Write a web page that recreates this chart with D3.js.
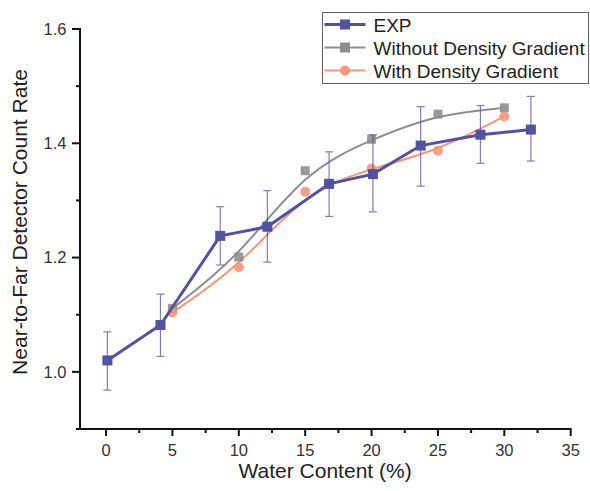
<!DOCTYPE html>
<html>
<head>
<meta charset="utf-8">
<script src="https://cdn.jsdelivr.net/npm/d3@7"></script>
<style>
  body { margin: 0; background: #fff; }
  svg { font-family: "Liberation Sans", Arial, sans-serif; }
</style>
</head>
<body>
<svg width="590" height="491"></svg>
<script>
// measured data
const expX = [0.1, 4.1, 8.6, 12.15, 16.8, 20.1, 23.7, 28.2, 32.0];
const expY = [1.020, 1.082, 1.238, 1.254, 1.329, 1.346, 1.396, 1.415, 1.424];
const expErrLo = [0.968, 1.027, 1.187, 1.192, 1.272, 1.280, 1.325, 1.365, 1.369];
const expErrHi = [1.070, 1.136, 1.289, 1.317, 1.385, 1.415, 1.464, 1.466, 1.482];

const simX = [5, 10, 15, 20, 25, 30];
const withoutY = [1.111, 1.201, 1.352, 1.407, 1.451, 1.462];
const withY = [1.104, 1.183, 1.315, 1.356, 1.387, 1.447];

const xTicks = [0, 5, 10, 15, 20, 25, 30, 35];
const yTicks = [1.0, 1.2, 1.4, 1.6];

const cExp = "#5252a3", cWithout = "#8e8e8e", cWith = "#f4967a";

const svg = d3.select("svg");
const x = d3.scaleLinear().domain([-2, 35]).range([79.5, 570.7]);
const y = d3.scaleLinear().domain([0.9, 1.6]).range([429, 29]);

// axes
const xAxis = svg.append("g").attr("transform", "translate(0,429)");
xAxis.append("line").attr("x1", 76).attr("x2", x(35) + 1).attr("stroke", "#111").attr("stroke-width", 2);
xAxis.selectAll("line.minor").data(d3.range(2.5, 35, 5)).join("line")
    .attr("x1", d => x(d)).attr("x2", d => x(d)).attr("y2", 4)
    .attr("stroke", "#111").attr("stroke-width", 2);
xAxis.selectAll("line.major").data(xTicks).join("line")
    .attr("x1", d => x(d)).attr("x2", d => x(d)).attr("y2", 7)
    .attr("stroke", "#111").attr("stroke-width", 2);
xAxis.selectAll("text").data(xTicks).join("text")
    .attr("x", d => x(d)).attr("y", 27).attr("text-anchor", "middle")
    .attr("font-size", 16.5).attr("fill", "#333").text(d => d);

const yAxis = svg.append("g").attr("transform", "translate(80,0)");
yAxis.append("line").attr("y1", 28).attr("y2", 430).attr("stroke", "#111").attr("stroke-width", 2);
yAxis.selectAll("line.minor").data([0.9, 1.1, 1.3, 1.5]).join("line")
    .attr("y1", d => y(d)).attr("y2", d => y(d)).attr("x2", -4)
    .attr("stroke", "#111").attr("stroke-width", 2);
yAxis.selectAll("line.major").data(yTicks).join("line")
    .attr("y1", d => y(d)).attr("y2", d => y(d)).attr("x2", -8)
    .attr("stroke", "#111").attr("stroke-width", 2);
yAxis.selectAll("text").data(yTicks).join("text")
    .attr("x", -13.5).attr("y", d => y(d) + 5.8).attr("text-anchor", "end")
    .attr("font-size", 16.5).attr("fill", "#333").text(d => d.toFixed(1));

svg.append("text").attr("x", x(16.5)).attr("y", 478).attr("text-anchor", "middle")
    .attr("font-size", 21).attr("fill", "#222").text("Water Content (%)");
svg.append("text").attr("transform", "translate(27,222) rotate(-90)")
    .attr("text-anchor", "middle").attr("font-size", 21).attr("fill", "#222")
    .text("Near-to-Far Detector Count Rate");

// simulated curves
const spline = d3.line().x(d => x(d[0])).y(d => y(d[1])).curve(d3.curveBasis);
svg.append("path").datum(d3.zip(simX, withoutY)).attr("d", spline)
    .attr("fill", "none").attr("stroke", cWithout).attr("stroke-width", 2);
svg.append("path").datum(d3.zip(simX, withY)).attr("d", spline)
    .attr("fill", "none").attr("stroke", cWith).attr("stroke-width", 2);

svg.selectAll("rect.without").data(d3.zip(simX, withoutY)).join("rect")
    .attr("x", d => x(d[0]) - 4.5).attr("y", d => y(d[1]) - 4.5)
    .attr("width", 9).attr("height", 9).attr("fill", cWithout).attr("opacity", 0.9);
svg.selectAll("circle.with").data(d3.zip(simX, withY)).join("circle")
    .attr("cx", d => x(d[0])).attr("cy", d => y(d[1])).attr("r", 5)
    .attr("fill", cWith).attr("opacity", 0.9);

// experiment
const errs = svg.append("g").attr("stroke", cExp).attr("stroke-width", 1.2).attr("opacity", 0.75);
expX.forEach((xv, i) => {
    const px = x(xv);
    errs.append("line").attr("x1", px).attr("x2", px).attr("y1", y(expErrLo[i])).attr("y2", y(expErrHi[i]));
    [expErrLo[i], expErrHi[i]].forEach(v => {
        errs.append("line").attr("x1", px - 4).attr("x2", px + 4).attr("y1", y(v)).attr("y2", y(v));
    });
});
const straight = d3.line().x(d => x(d[0])).y(d => y(d[1]));
svg.append("path").datum(d3.zip(expX, expY)).attr("d", straight)
    .attr("fill", "none").attr("stroke", cExp).attr("stroke-width", 3);
svg.selectAll("rect.exp").data(d3.zip(expX, expY)).join("rect")
    .attr("x", d => x(d[0]) - 5).attr("y", d => y(d[1]) - 5)
    .attr("width", 10).attr("height", 10).attr("fill", cExp);

// legend
const lg = svg.append("g").attr("transform", "translate(322.5,12.5)");
lg.append("rect").attr("width", 266).attr("height", 71)
    .attr("fill", "white").attr("stroke", "#666").attr("stroke-width", 1);
const items = [
    {name: "EXP", color: cExp, w: 3, mark: "square"},
    {name: "Without Density Gradient", color: cWithout, w: 2, mark: "square"},
    {name: "With Density Gradient", color: cWith, w: 2, mark: "circle"}
];
items.forEach((it, i) => {
    const gy = 12 + i * 23;
    lg.append("line").attr("x1", 2).attr("x2", 43).attr("y1", gy).attr("y2", gy)
        .attr("stroke", it.color).attr("stroke-width", it.w);
    if (it.mark === "square")
        lg.append("rect").attr("x", 17.5).attr("y", gy - 5).attr("width", 10).attr("height", 10).attr("fill", it.color);
    else
        lg.append("circle").attr("cx", 22.5).attr("cy", gy).attr("r", 5).attr("fill", it.color);
    lg.append("text").attr("x", 51).attr("y", gy + 7).attr("font-size", 19).attr("fill", "#222").text(it.name);
});
</script>
</body>
</html>
